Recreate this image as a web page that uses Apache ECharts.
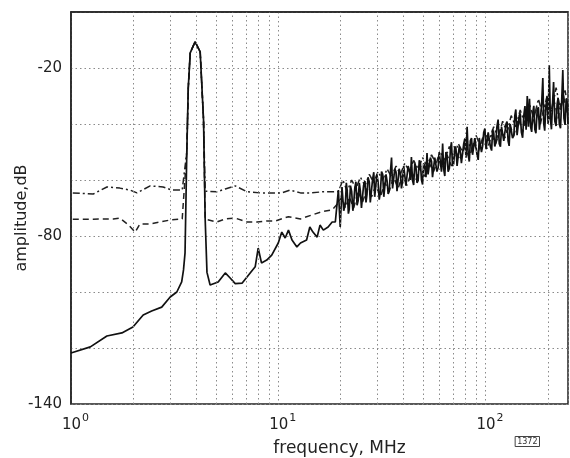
<!DOCTYPE html>
<html>
<head>
<meta charset="utf-8">
<script src="https://cdn.jsdelivr.net/npm/echarts@6.0.0/dist/echarts.min.js"></script>
<style>
  html, body { margin: 0; padding: 0; background: #fff; }
  #chart { width: 570px; height: 458px; }
</style>
</head>
<body>
<div id="chart"></div>
<script>
// y tick values that carry a label
const yLabels = [-20, -80, -140];
// minor vertical grid lines (MHz)
const minorGrid = [2, 3, 4, 5, 6, 7, 8, 9, 20, 30, 40, 50, 60, 70, 80, 90, 200];

// solid trace: [MHz, dB]
const solid = [
  [1.0, -121.8], [1.24, -119.6], [1.49, -115.7], [1.76, -114.6], [1.99, -112.5],
  [2.23, -108.2], [2.45, -106.8], [2.74, -105.4], [3.01, -101.8], [3.24, -100],
  [3.42, -96.4], [3.49, -92.1], [3.55, -86], [3.62, -50], [3.68, -27], [3.76, -14.6],
  [3.97, -10.6], [4.2, -14.2], [4.36, -38.6], [4.44, -74], [4.53, -93], [4.69, -97.5],
  [5.13, -96.4], [5.55, -93.2], [5.86, -95], [6.2, -97], [6.7, -96.8], [7.32, -93.2],
  [7.74, -91], [8.0, -84.3], [8.3, -89.6], [8.8, -88.6], [9.3, -86.8], [10.0, -82.5],
  [10.4, -78.6], [10.8, -80.7], [11.2, -77.9], [11.65, -81.4], [12.3, -83.9], [12.8, -82.5],
  [13.7, -81.4], [14.2, -76.8], [14.7, -78.6], [15.4, -80.4], [15.9, -76.1], [16.5, -77.9],
  [17.4, -76.8], [18.2, -75], [18.85, -75], [19.5, -63.6], [19.9, -76.8], [20.3, -62.5],
  [20.7, -71], [21.1, -68.2], [21.3, -61], [21.5, -63.7], [21.8, -72], [22, -70.5], [22.3, -62],
  [22.6, -64.1], [22.9, -71], [23.1, -68.8], [23.4, -63], [23.7, -60.6], [24, -69],
  [24.3, -67.3], [24.6, -61], [24.9, -64], [25.2, -70], [25.5, -69.7], [25.8, -62], [26.2, -60.4],
  [26.5, -68], [26.8, -65.1], [27.1, -59], [27.5, -60.8], [27.8, -68], [28.2, -67.5], [28.5, -60],
  [28.9, -57.2], [29.2, -66], [29.6, -65.9], [29.9, -58], [30.3, -60.6], [30.7, -67], [31.1, -64.3],
  [31.5, -57], [31.9, -58], [32.3, -66], [32.7, -66.7], [33.1, -58], [33.5, -60.4], [33.9, -65],
  [34.3, -64.1], [34.7, -58], [35.2, -52], [35.6, -63], [36, -62.5], [36.5, -56], [37, -57.2],
  [37.4, -64], [37.9, -63.9], [38.3, -56], [38.8, -57.6], [39.3, -63], [39.8, -60.3], [40.3, -55],
  [40.8, -55], [41.3, -62], [41.8, -61.7], [42.3, -55], [42.9, -56.4], [43.4, -60], [43.9, -51.8],
  [44.4, -60], [45, -61.8], [45.6, -54], [46.2, -55.5], [46.7, -61], [47.3, -60.2], [47.9, -53],
  [48.5, -53.9], [49.1, -60], [49.7, -61.6], [50.3, -54], [51, -55.3], [51.6, -59], [52.2, -50.4],
  [52.8, -58], [53.5, -58.7], [54.2, -52], [54.9, -53.4], [55.5, -59], [56.2, -59.1], [56.9, -52],
  [57.6, -51.8], [58.3, -57], [59.1, -55.5], [59.8, -50], [60.6, -50.2], [61.3, -57], [62.1, -47],
  [62.8, -56], [63.6, -58.6], [64.4, -50], [65.2, -51.2], [66, -57], [66.9, -55.9], [67.7, -49],
  [68.5, -46.5], [69.3, -55], [70.2, -54.2], [71.1, -48], [72, -48.8], [72.9, -55], [73.8, -55.4],
  [74.7, -48], [75.6, -50], [76.5, -54], [77.5, -53.6], [78.5, -47], [79.5, -45.2], [80.5, -52],
  [81.5, -41], [82.5, -51], [83.5, -53.4], [84.5, -46], [85.6, -45], [86.6, -51], [87.7, -51.6],
  [88.8, -45], [89.9, -45.2], [91, -51], [92.2, -52.8], [93.3, -45], [94.5, -45.4], [95.6, -50],
  [96.8, -48], [98, -43], [99.3, -41.6], [100.6, -49], [102, -49.2], [103, -43], [104, -42.9],
  [105.5, -48], [107, -49.5], [108.2, -42], [109.5, -43.1], [110.8, -48], [112, -46.8], [113.5, -41],
  [115, -38.4], [116.5, -47], [118, -48.1], [119.5, -41], [121, -40.7], [122.5, -46], [124, -46.4],
  [125.5, -40], [127, -39.1], [128.5, -46], [130, -47.8], [131.5, -40], [133, -40.5], [135, -45],
  [137, -44.1], [138.5, -37], [140, -34.8], [142, -44], [144, -44.5], [145.5, -37], [147, -36.2],
  [149, -43], [151, -44.9], [153, -37], [155, -33.6], [157, -42], [159, -30], [161, -41], [163, -31],
  [165, -41], [167, -42.8], [169, -36], [171, -33.5], [173, -42], [175, -43.3], [177.5, -35],
  [180, -34], [182, -42], [184, -41.8], [186.5, -33], [189, -23.6], [191, -40], [193, -42.4],
  [195.5, -34], [198, -30.2], [200.5, -40], [203, -19], [205.5, -38], [208, -41.9], [210.5, -33],
  [213, -25], [216, -39], [219, -40.7], [221.5, -33], [224, -30.6], [227, -40], [230, -41.5],
  [233, -32], [236, -20.7], [239, -38], [242, -40.3], [245, -31], [248, -32.2], [250, -40]
];

// dashed trace
const dashed = [
  [1.02, -74], [1.28, -74], [1.6, -73.9], [1.72, -73.6], [1.89, -76], [2.04, -78.6],
  [2.15, -75.7], [2.41, -75.7], [2.69, -75], [3.0, -74.3], [3.44, -73.9], [3.51, -73.9],
  [3.62, -50], [3.68, -27], [3.76, -14.6], [3.97, -10.6], [4.2, -14.2], [4.36, -38.6],
  [4.44, -74], [4.53, -74], [5.06, -75], [5.55, -73.9], [6.2, -73.6], [7.07, -75],
  [7.9, -75], [8.8, -74.6], [9.7, -74.6], [11.2, -73.1], [12.8, -73.9], [14.5, -72.5],
  [16.3, -71.3], [18.2, -70.7], [19.5, -68.2], [20.3, -66], [21.1, -70], [22, -66],
  [23.1, -70], [24.3, -64], [25.5, -68], [26.8, -63], [28.2, -66], [29.6, -62],
  [31.1, -66], [32.7, -61], [34.3, -64], [36, -59], [37.9, -63], [39.8, -58],
  [41.8, -62], [43.9, -57], [46.2, -60], [48.5, -55], [51, -59], [53.5, -54],
  [56.2, -57], [59.1, -52], [62.1, -56], [65.2, -51], [68.5, -55], [72, -50],
  [75.6, -53], [79.5, -48], [83.5, -52], [87.7, -47], [92.2, -50], [96.8, -45],
  [102, -49], [107, -44], [112, -47], [118, -42], [124, -45], [130, -40],
  [137, -44], [144, -38], [151, -43], [159, -36], [167, -41], [175, -35],
  [184, -40], [193, -33], [203, -39], [213, -31], [224, -38], [236, -29], [248, -36]
];

// dash-dot trace
const dashDot = [
  [1.02, -64.6], [1.28, -65], [1.49, -62.5], [1.72, -62.9], [1.93, -63.6], [2.08, -64.6],
  [2.41, -62.1], [2.78, -62.5], [3.07, -63.6], [3.44, -63.6], [3.51, -63.6],
  [3.62, -50], [3.68, -27], [3.76, -14.6], [3.97, -10.6], [4.2, -14.2], [4.36, -38.6],
  [4.44, -64], [4.53, -64], [5.06, -64.2], [5.55, -63.2], [6.2, -62.1], [7.07, -64.2],
  [8.17, -64.6], [9.15, -64.6], [10.4, -64.6], [11.4, -63.6], [12.8, -64.6], [14.3, -64.6],
  [16.5, -64.2], [18.4, -64.2], [19.5, -64.2], [19.9, -64], [20.5, -60], [21.5, -64],
  [22.6, -60], [23.7, -63], [24.9, -59], [26.2, -62], [27.5, -58], [28.9, -61],
  [30.3, -57], [31.9, -60], [33.5, -56], [35.2, -59], [37, -55], [38.8, -58],
  [40.8, -54], [42.9, -57], [45, -53], [47.3, -56], [49.7, -52], [52.2, -55],
  [54.9, -51], [57.6, -54], [60.6, -50], [63.6, -53], [66.9, -48], [70.2, -52],
  [73.8, -47], [77.5, -50], [81.5, -46], [85.6, -49], [89.9, -44], [94.5, -48],
  [99.3, -43], [104, -46], [109.5, -41], [115, -45], [121, -39], [127, -43],
  [133, -37], [140, -41], [147, -35], [155, -40], [163, -33], [171, -38],
  [180, -31], [189, -37], [198, -30], [208, -36], [219, -27], [230, -35], [242, -28], [250, -34]
];

const FONT = 'DejaVu Sans';
const gridDot = { color: '#8a8a8a', width: 1, type: [1.5, 3] };

const chart = echarts.init(document.getElementById('chart'));
chart.setOption({
  animation: false,
  backgroundColor: '#fff',
  grid: {
    left: 71, right: 2, top: 12, bottom: 54, outerBoundsMode: 'none',
    show: true, borderColor: '#222', borderWidth: 1.5
  },
  xAxis: {
    type: 'log', logBase: 10, min: 1, max: 250,
    name: 'frequency, MHz', nameLocation: 'middle', nameGap: 36, nameMoveOverlap: false,
    nameTextStyle: { fontFamily: FONT, fontSize: 17, color: '#222', padding: [0, 0, 0, 40] },
    axisLine: { lineStyle: { color: '#222', width: 1.5 } },
    axisTick: { show: false },
    splitLine: { show: true, lineStyle: gridDot },
    axisLabel: {
      margin: 9, color: '#222', showMaxLabel: false,
      formatter: v => '{b|10}{s|' + Math.round(Math.log10(v)) + '}',
      rich: {
        b: { fontFamily: FONT, fontSize: 15, color: '#222', lineHeight: 20, verticalAlign: 'bottom', padding: [0, 0, 0, 9] },
        s: { fontFamily: FONT, fontSize: 11, color: '#222', lineHeight: 20, verticalAlign: 'top', padding: [0, 0, 0, 1] }
      }
    }
  },
  yAxis: {
    type: 'value', min: -140, max: 0, interval: 20,
    name: 'amplitude,dB', nameLocation: 'middle', nameGap: 41, nameRotate: 90, nameMoveOverlap: false,
    nameTextStyle: { fontFamily: FONT, fontSize: 16, color: '#222', padding: [0, 20, 0, 0] },
    axisLine: { lineStyle: { color: '#222', width: 1.5 } },
    axisTick: { show: false },
    splitLine: { show: true, lineStyle: gridDot },
    axisLabel: {
      margin: 9, color: '#222', fontFamily: FONT, fontSize: 15,
      formatter: v => (yLabels.includes(v) ? String(v) : '')
    }
  },
  series: [
    {
      type: 'line', data: dashDot, symbol: 'none', z: 2,
      lineStyle: { color: '#222', width: 1.5, type: [7, 3, 2, 3] }
    },
    {
      type: 'line', data: dashed, symbol: 'none', z: 2,
      lineStyle: { color: '#222', width: 1.5, type: [6, 4] }
    },
    {
      type: 'line', data: solid, symbol: 'none', z: 3,
      lineStyle: { color: '#111', width: 1.7 },
      markLine: {
        silent: true, symbol: 'none', label: { show: false },
        lineStyle: gridDot,
        data: minorGrid.map(f => ({ xAxis: f }))
      }
    }
  ],
  graphic: [{
    type: 'text', right: 30, top: 436,
    style: {
      text: '1372', fontFamily: FONT, fontSize: 8, fill: '#333',
      borderColor: '#444', borderWidth: 1, padding: [1, 2]
    }
  }]
});
</script>
</body>
</html>
